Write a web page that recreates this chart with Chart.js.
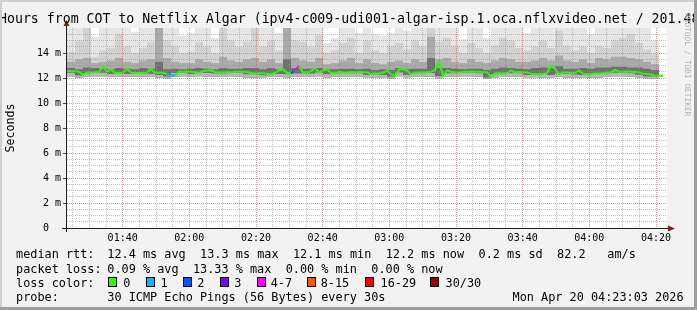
<!DOCTYPE html>
<html><head><meta charset="utf-8">
<script src="https://cdn.jsdelivr.net/npm/chart.js@4.4.1/dist/chart.umd.min.js"></script>
<style>
html,body{margin:0;padding:0;background:#f2f2f2;overflow:hidden;}
#wrap{position:relative;width:697px;height:310px;overflow:hidden;background:#f2f2f2;font-family:"DejaVu Sans Mono",monospace;color:#000;}
#c{position:absolute;left:0;top:0;}
.t{position:absolute;white-space:pre;font-size:11.85px;line-height:14px;}
#title{position:absolute;left:-1px;top:10.7px;font-size:13.22px;line-height:16px;white-space:pre;}
.box{position:absolute;width:7px;height:8px;border:1px solid #000;top:277px;}
#wm{position:absolute;left:692px;top:13px;font-size:7.8px;line-height:9px;color:#b4b4b4;transform-origin:0 0;transform:rotate(90deg);white-space:pre;}
.bd{position:absolute;}
</style></head>
<body><div id="wrap">
<canvas id="c" width="697" height="310"></canvas>
<div id="title">Hours from COT to Netflix Algar (ipv4-c009-udi001-algar-isp.1.oca.nflxvideo.net / 201.48</div>
<div class="t" style="left:16px;top:247.4px">median rtt:</div>
<div class="t" style="left:107.3px;top:247.4px">12.4 ms avg</div>
<div class="t" style="left:200.1px;top:247.4px">13.3 ms max</div>
<div class="t" style="left:292.9px;top:247.4px">12.1 ms min</div>
<div class="t" style="left:385.7px;top:247.4px">12.2 ms now</div>
<div class="t" style="left:478.5px;top:247.4px">0.2 ms sd</div>
<div class="t" style="left:557px;top:247.4px">82.2</div>
<div class="t" style="left:607.3px;top:247.4px">am/s</div>
<div class="t" style="left:16px;top:261.7px">packet loss:</div>
<div class="t" style="left:107.3px;top:261.7px">0.09 % avg</div>
<div class="t" style="left:192.9px;top:261.7px">13.33 % max</div>
<div class="t" style="left:285.7px;top:261.7px">0.00 % min</div>
<div class="t" style="left:371.3px;top:261.7px">0.00 % now</div>
<div class="t" style="left:16px;top:275.7px">loss color:</div>
<div id="lossLegend"></div>
<div class="t" style="left:16px;top:289.7px">probe:</div>
<div class="t" style="left:107.3px;top:289.7px">30 ICMP Echo Pings (56 Bytes) every 30s</div>
<div class="t" style="left:512.5px;top:289.7px">Mon Apr 20 04:23:03 2026</div>
<div id="wm">RRDTOOL / TOBI OETIKER</div>
<div class="bd" style="left:0;top:0;width:697px;height:2px;background:#cfcfcf"></div>
<div class="bd" style="left:0;top:0;width:2px;height:310px;background:#cfcfcf"></div>
<div class="bd" style="left:0;top:307px;width:697px;height:3px;background:#9e9e9e"></div>
<div class="bd" style="left:694px;top:0;width:3px;height:310px;background:#9e9e9e"></div>
</div>
<script>
// ---- data (minutes since midnight for time axis, milliseconds for values) ----
const startMinute = 83.3;           // graph start ~01:23:18
const spanMinutes = 180;            // 3 hours
const medianStep = 1.2;             // minutes between median samples
const smokeStep = 2.4;              // minutes between smoke samples

const xTickLabels = ['01:40','02:00','02:20','02:40','03:00','03:20','03:40','04:00','04:20'];
const yTickLabels = ['0  ','2 m','4 m','6 m','8 m','10 m','12 m','14 m'];

const medianRtt = [
12.56,12.56,12.55,12.5,12.25,12.45,12.45,12.47,12.5,12.9,
12.5,12.7,12.4,12.4,12.42,12.75,12.42,12.4,12.4,12.42,
12.45,12.72,12.43,12.43,12.42,12.3,12.2,12.2,12.5,12.5,
12.52,12.5,12.48,12.4,12.55,12.6,12.62,12.48,12.45,12.45,
12.47,12.45,12.5,12.52,12.5,12.48,12.4,12.37,12.38,12.37,
12.35,12.28,12.42,12.6,12.72,12.4,12.37,12.6,12.96,12.45,
12.45,12.55,12.8,12.45,12.6,12.72,12.4,12.37,12.5,12.45,
12.45,12.47,12.45,12.48,12.47,12.45,12.3,12.37,12.37,12.4,
12.6,12.3,12.17,12.7,12.72,12.6,12.3,12.42,12.45,12.45,
12.47,12.5,12.65,13.3,12.2,12.6,12.5,12.45,12.45,12.5,
12.5,12.52,12.5,12.5,12.48,12.45,12.1,12.37,12.38,12.37,
12.4,12.6,12.45,12.47,12.45,12.45,12.35,12.3,12.3,12.32,
12.4,12.96,12.75,12.3,12.45,12.45,12.4,12.42,12.6,12.35,
12.3,12.3,12.37,12.37,12.38,12.45,12.45,12.65,12.5,12.5,
12.52,12.5,12.5,12.45,12.35,12.32,12.3,12.17,12.17,12.2];

const lossPings = [
0,0,0,0,0,0,0,0,0,0,
0,0,0,0,0,0,0,0,0,0,
0,0,0,0,0,0,1,1,0,0,
0,0,0,0,0,0,0,0,0,0,
0,0,0,0,0,0,0,0,0,0,
0,0,0,0,0,0,0,2,4,0,
0,0,0,0,0,0,0,0,0,0,
0,0,0,0,0,0,0,0,0,0,
0,0,0,0,0,0,0,0,0,0,
0,0,0,0,0,0,0,0,0,0,
0,0,0,0,0,0,0,0,0,0,
0,0,0,0,0,0,0,0,0,0,
0,0,0,0,0,0,0,0,0,0,
0,0,0,0,0,0,0,0,0,0,
0,0,0,0,0,0,0,0,0,0];

const smokeMax = [
15.8,16.5,16.5,16.5,15.3,16.5,16.5,16.5,16.5,15.7,
16.5,16.5,16.5,16.5,16.5,15.4,15.6,16.5,16.5,15.2,
16.5,16.5,16.5,16.5,16.5,16.5,16.5,15.6,16.5,16.5,
16.5,16.5,16.5,14.8,15.2,16.5,16.5,15.6,16.5,15.5,
15.4,15.6,16.5,15.8,16.5,16.5,16.5,16.5,16.5,16.5,
15.1,16.5,16.5,15.2,16.5,16.5,16.5,16.5,15.6,16.5,
16.5,16.5,16.5,16.5,16.5,16.5,15.5,16.5,16.5,16.5,
16.5,16.5,16.5,16.5,15.0];
const smokeP90 = [
13.6,14.1,15.0,16.5,13.7,14.2,14.4,15.5,14.5,14.0,
14.4,14.9,16.5,15.0,14.5,14.0,14.1,14.9,14.5,14.0,
16.5,15.0,14.5,14.9,16.5,14.5,15.0,14.2,16.5,15.0,
14.9,14.5,15.4,14.0,14.2,14.8,15.2,14.0,15.0,14.2,
14.0,14.6,14.8,14.3,15.0,14.5,16.5,14.9,15.2,14.6,
14.0,14.8,14.4,14.0,14.6,15.2,15.0,14.4,14.2,14.5,
15.0,14.4,15.8,14.6,14.2,14.5,14.0,14.6,14.4,15.0,
15.2,15.5,14.8,14.3,13.9];
const smokeP75 = [
13.2,13.3,13.5,13.6,13.2,13.3,13.4,13.6,13.3,13.2,
13.4,13.5,16.5,13.6,13.3,13.2,13.2,13.5,13.3,13.2,
13.7,13.4,13.3,13.5,13.6,13.3,13.5,13.2,16.5,13.6,
13.4,13.3,13.6,13.1,13.2,13.4,13.6,13.2,13.5,13.2,
13.1,13.3,13.4,13.2,13.5,13.3,15.3,13.5,13.6,13.3,
13.2,13.5,13.3,13.2,13.4,13.6,13.5,13.3,13.3,13.4,
13.6,13.4,13.8,13.4,13.3,13.5,13.2,13.6,13.5,13.7,
13.7,13.6,13.5,13.3,13.1];
const smokeP60 = [
12.75,12.8,12.7,12.85,12.8,12.75,12.7,12.8,12.75,12.7,
12.8,12.75,13.3,12.7,12.75,12.7,12.75,12.8,12.75,12.7,
12.8,12.75,12.75,12.8,12.8,12.7,12.8,12.7,13.5,12.8,
12.75,12.75,12.8,12.7,12.7,12.75,12.75,12.7,12.75,12.65,
12.7,12.65,12.8,12.7,12.75,12.75,13.6,12.8,12.8,12.75,
12.7,12.75,12.75,12.65,12.75,12.85,12.8,12.75,12.7,12.8,
12.85,12.8,12.95,12.75,12.75,12.8,12.75,12.85,12.85,12.9,
12.9,12.85,12.85,12.75,12.65];
const smokeLow = [
12.45,12.42,12.2,12.37,12.4,12.42,12.33,12.35,12.33,12.33,
12.37,12.35,12.25,12.12,12.4,12.42,12.33,12.45,12.4,12.37,
12.37,12.42,12.4,12.3,12.3,12.22,12.35,12.33,12.3,12.37,
12.37,12.37,12.45,12.3,12.37,12.38,12.38,12.38,12.24,12.3,
12.24,12.1,12.45,12.24,12.37,12.38,12.4,12.14,12.38,12.38,
12.42,12.42,12.38,12.05,12.3,12.33,12.38,12.38,12.24,12.24,
12.33,12.24,12.38,12.33,12.28,12.24,12.3,12.32,12.38,12.42,
12.42,12.38,12.26,12.12,12.12];
const smokeMin = [
12.2,12.15,12.02,12.12,12.15,12.15,12.1,12.1,12.1,12.1,
12.12,12.1,12.05,11.98,12.12,12.15,12.1,12.15,12.12,12.1,
12.1,12.15,12.12,12.05,12.05,12.0,12.1,12.1,12.05,12.1,
12.1,12.1,12.15,12.05,12.1,12.1,12.1,12.1,12.0,12.05,
12.0,11.95,12.15,12.0,12.1,12.1,12.1,11.98,12.1,12.1,
12.15,12.15,12.1,11.95,12.05,12.08,12.1,12.1,12.0,12.0,
12.05,12.0,12.1,12.05,12.02,12.0,12.05,12.05,12.1,12.15,
12.15,12.1,12.02,11.98,11.98];

const lossLabels = ['0','1','2','3','4-7','8-15','16-29','30/30'];
const lossColors = ['#26ff00','#00b8ff','#0059ff','#7e00ff','#ff00ff','#ff5500','#ff0000','#a10000'];
const lossBoxX = [108,146,183,220,257,307,365,430];
const lossTextX = [123.3,160.5,197.3,234.3,270.7,320.7,380.5,445.5];

// ---- legend boxes ----
const ll = document.getElementById('lossLegend');
lossLabels.forEach((lab, k) => {
  const b = document.createElement('div');
  b.className = 'box'; b.style.left = lossBoxX[k] + 'px'; b.style.background = lossColors[k];
  ll.appendChild(b);
  const t = document.createElement('div');
  t.className = 't'; t.style.left = lossTextX[k] + 'px'; t.style.top = '275.7px'; t.textContent = lab;
  ll.appendChild(t);
});

function lossClass(n) {
  n = n || 0;
  if (n <= 3) return n;
  if (n <= 7) return 4;
  if (n <= 15) return 5;
  if (n <= 29) return 6;
  return 7;
}
const smokePts = arr => arr.map((v, i) => ({x: startMinute + i * smokeStep, y: v}));
const medPts = medianRtt.map((v, i) => ({x: startMinute + i * medianStep, y: v}));

function fmtTime(v) {
  const m = Math.round(v);
  const hh = String(Math.floor(m / 60)).padStart(2, '0');
  const mm = String(m % 60).padStart(2, '0');
  return hh + ':' + mm;
}
const mono = 'DejaVu Sans Mono';
const GRID = 'rgba(143,143,143,0.55)';
const MGRID = 'rgba(222,79,79,0.6)';

const bgPlugin = {
  id: 'canvasBg',
  beforeDraw(chart) {
    const {ctx, chartArea: a} = chart;
    ctx.save(); ctx.fillStyle = '#ffffff';
    ctx.fillRect(a.left, a.top, a.right - a.left, a.bottom - a.top);
    ctx.restore();
  }
};
const axisPlugin = {
  id: 'rrdAxes',
  afterDraw(chart) {
    const {ctx, chartArea: a} = chart;
    const yb = a.bottom + 0.5, xl = a.left - 0.5;
    ctx.save();
    ctx.strokeStyle = '#1f1f1f'; ctx.lineWidth = 1;
    ctx.beginPath();
    ctx.moveTo(a.left - 5, yb); ctx.lineTo(a.right + 2, yb);
    ctx.moveTo(xl, a.bottom + 4); ctx.lineTo(xl, a.top - 2);
    ctx.stroke();
    ctx.fillStyle = '#7f1f1f';
    ctx.beginPath();
    ctx.moveTo(a.right + 1, yb - 3); ctx.lineTo(a.right + 8, yb); ctx.lineTo(a.right + 1, yb + 3);
    ctx.closePath(); ctx.fill();
    ctx.beginPath();
    ctx.moveTo(xl - 3, a.top - 2); ctx.lineTo(xl, a.top - 8); ctx.lineTo(xl + 3, a.top - 2);
    ctx.closePath(); ctx.fill();
    ctx.restore();
  }
};

const band = (data, color, order) => ({
  data: smokePts(data), stepped: 'after', borderWidth: 0, borderColor: 'rgba(0,0,0,0)',
  backgroundColor: color, fill: 0, pointRadius: 0, order: order
});

new Chart(document.getElementById('c'), {
  type: 'line',
  data: {
    datasets: [
      {data: smokePts(smokeMin), stepped: 'after', borderWidth: 0, borderColor: 'rgba(0,0,0,0)', fill: false, pointRadius: 0, order: 6},
      band(smokeMax, '#e6e6e6', 5),
      band(smokeP90, '#d2d2d2', 4),
      band(smokeP75, '#aaaaaa', 3),
      band(smokeP60, '#707070', 2),
      band(smokeLow, '#b8b8b8', 1),
      {data: medPts, borderColor: lossColors[0], borderWidth: 2, fill: false, pointRadius: 0, order: 0,
       segment: {borderColor: c => lossColors[lossClass(lossPings[c.p1DataIndex])]}}
    ]
  },
  options: {
    responsive: false, animation: false, devicePixelRatio: 1,
    layout: {padding: {left: 0, top: 28, right: 30, bottom: 0}},
    plugins: {legend: {display: false}, tooltip: {enabled: false}, title: {display: false}},
    elements: {point: {radius: 0}, line: {tension: 0}},
    scales: {
      x: {
        type: 'linear', min: startMinute, max: startMinute + spanMinutes,
        afterBuildTicks: s => {
          const t = [];
          for (let k = Math.ceil(startMinute / 5); k * 5 < startMinute + spanMinutes; k++) t.push({value: k * 5});
          s.ticks = t;
        },
        afterFit: s => { s.height = 82; },
        grid: {z: 1, drawTicks: false, lineWidth: 1,
               color: c => (Math.round(c.tick.value) % 20 === 0) ? MGRID : GRID},
        border: {display: false, dash: [1, 1]},
        ticks: {autoSkip: false, maxRotation: 0, padding: 4, color: '#000',
                font: {family: mono, size: 10},
                callback: v => { const s = fmtTime(v); return xTickLabels.includes(s) ? s : ''; }}
      },
      y: {
        min: 0, max: 16,
        afterFit: s => { s.width = 67; },
        title: {display: true, text: 'Seconds', color: '#000', font: {family: mono, size: 11.6}, padding: {top: 4, bottom: 0}},
        grid: {z: 1, lineWidth: 1, tickLength: 4,
               color: c => c.tick.value >= 16 ? 'rgba(0,0,0,0)' : (c.tick.value % 2 === 0 ? MGRID : GRID),
               tickColor: c => (c.tick.value % 2 === 0 && c.tick.value < 16) ? '#444' : 'rgba(0,0,0,0)'},
        border: {display: false, dash: [1, 1]},
        ticks: {stepSize: 0.5, autoSkip: false, padding: 2, color: '#000',
                font: {family: mono, size: 10},
                callback: v => (v % 2 === 0 && v < 16) ? yTickLabels[v / 2] : ''}
      }
    }
  },
  plugins: [bgPlugin, axisPlugin]
});
</script>
</body></html>
